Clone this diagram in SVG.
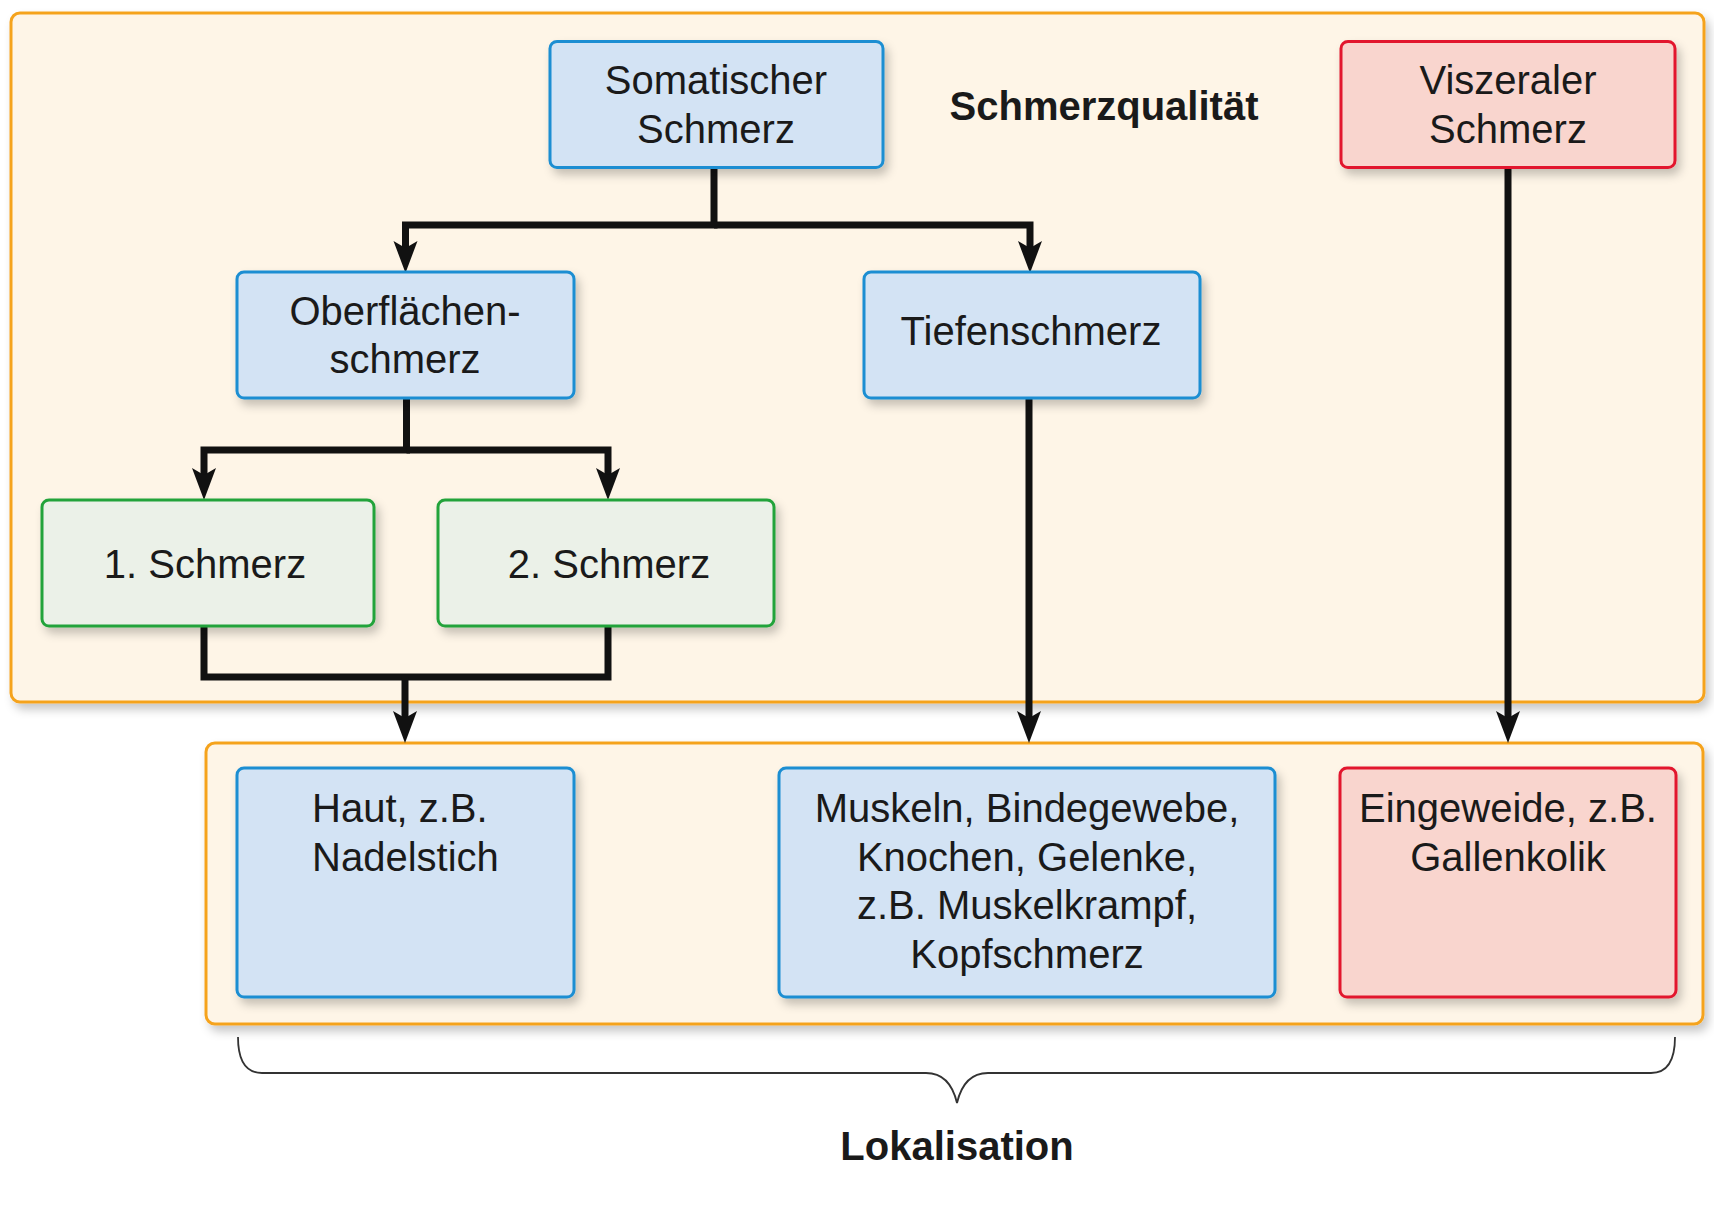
<svg xmlns="http://www.w3.org/2000/svg" width="1714" height="1207" viewBox="0 0 1714 1207">
<defs>
<style>
text{font-family:"Liberation Sans",Arial,Helvetica,sans-serif;fill:#1a1a1a;font-size:40px;text-anchor:middle}
.bold{font-weight:bold}
.panel{fill:#fef5e7;stroke:#f5a31f;stroke-width:3}
.blue{fill:#d3e3f4;stroke:#1b8ed2;stroke-width:3}
.red{fill:#f9d5ce;stroke:#e2182d;stroke-width:3}
.green{fill:#ebf1e8;stroke:#23a33b;stroke-width:3}
.conn{fill:none;stroke:#111;stroke-width:7;stroke-linejoin:miter}
.brace{fill:none;stroke:#333;stroke-width:1.8}
</style>
<filter id="sh" x="-10%" y="-10%" width="130%" height="140%">
<feDropShadow dx="4" dy="6" stdDeviation="5" flood-color="#000" flood-opacity="0.22"/>
</filter>
<marker id="arr" markerUnits="userSpaceOnUse" markerWidth="32" markerHeight="26" viewBox="0 0 32 26" refX="11" refY="13" orient="auto">
<path d="M0,1 L32,13 L0,25 L7,13 Z" fill="#111"/>
</marker>
</defs>

<g id="panel-top"><rect class="panel" x="11" y="13" width="1693" height="689" rx="9" filter="url(#sh)"/></g>
<g id="panel-bottom"><rect class="panel" x="206" y="743" width="1497" height="281" rx="9" filter="url(#sh)"/></g>

<g id="label-schmerzqualitaet"><text class="bold" x="1104" y="120">Schmerzqualität</text></g>

<g id="connectors">
<path class="conn" d="M714,167 V225 H405.5 V252" marker-end="url(#arr)"/>
<path class="conn" d="M714,225 H1030 V252" marker-end="url(#arr)"/>
<path class="conn" d="M406.5,398 V450 H204 V479" marker-end="url(#arr)"/>
<path class="conn" d="M406.5,450 H608 V479" marker-end="url(#arr)"/>
<path class="conn" d="M204,626 V677 H608 V626"/>
<path class="conn" d="M405,677 V722" marker-end="url(#arr)"/>
<path class="conn" d="M1029,398 V722" marker-end="url(#arr)"/>
<path class="conn" d="M1508,167 V722" marker-end="url(#arr)"/>
</g>

<g id="somatischer"><rect class="blue" x="550" y="41.5" width="333" height="126" rx="7" filter="url(#sh)"/>
<text x="716" y="94">Somatischer</text><text x="716" y="143">Schmerz</text></g>

<g id="viszeraler"><rect class="red" x="1341" y="41.5" width="334" height="126" rx="7" filter="url(#sh)"/>
<text x="1508" y="94">Viszeraler</text><text x="1508" y="143">Schmerz</text></g>

<g id="oberflaechen"><rect class="blue" x="237" y="272" width="337" height="126" rx="7" filter="url(#sh)"/>
<text x="405" y="325">Oberflächen-</text><text x="405" y="373">schmerz</text></g>

<g id="tiefen"><rect class="blue" x="864" y="272" width="336" height="126" rx="7" filter="url(#sh)"/>
<text x="1031" y="345">Tiefenschmerz</text></g>

<g id="schmerz1"><rect class="green" x="42" y="500" width="332" height="126" rx="7" filter="url(#sh)"/>
<text x="205" y="578">1. Schmerz</text></g>

<g id="schmerz2"><rect class="green" x="438" y="500" width="336" height="126" rx="7" filter="url(#sh)"/>
<text x="609" y="578">2. Schmerz</text></g>

<g id="haut"><rect class="blue" x="237" y="768" width="337" height="229" rx="7" filter="url(#sh)"/>
<text x="312" y="822" style="text-anchor:start">Haut, z.B.</text><text x="312" y="871" style="text-anchor:start">Nadelstich</text></g>

<g id="muskeln"><rect class="blue" x="779" y="768" width="496" height="229" rx="7" filter="url(#sh)"/>
<text x="1027" y="822">Muskeln, Bindegewebe,</text><text x="1027" y="871">Knochen, Gelenke,</text><text x="1027" y="919">z.B. Muskelkrampf,</text><text x="1027" y="968">Kopfschmerz</text></g>

<g id="eingeweide"><rect class="red" x="1340" y="768" width="336" height="229" rx="7" filter="url(#sh)"/>
<text x="1508" y="822">Eingeweide, z.B.</text><text x="1508" y="871">Gallenkolik</text></g>

<g id="lokalisation">
<path class="brace" d="M238,1037 Q238,1073 262,1073 L926,1073 Q950,1073 957,1103 Q964,1073 988,1073 L1651,1073 Q1675,1073 1675,1037"/>
<text class="bold" x="957" y="1160">Lokalisation</text>
</g>
</svg>
